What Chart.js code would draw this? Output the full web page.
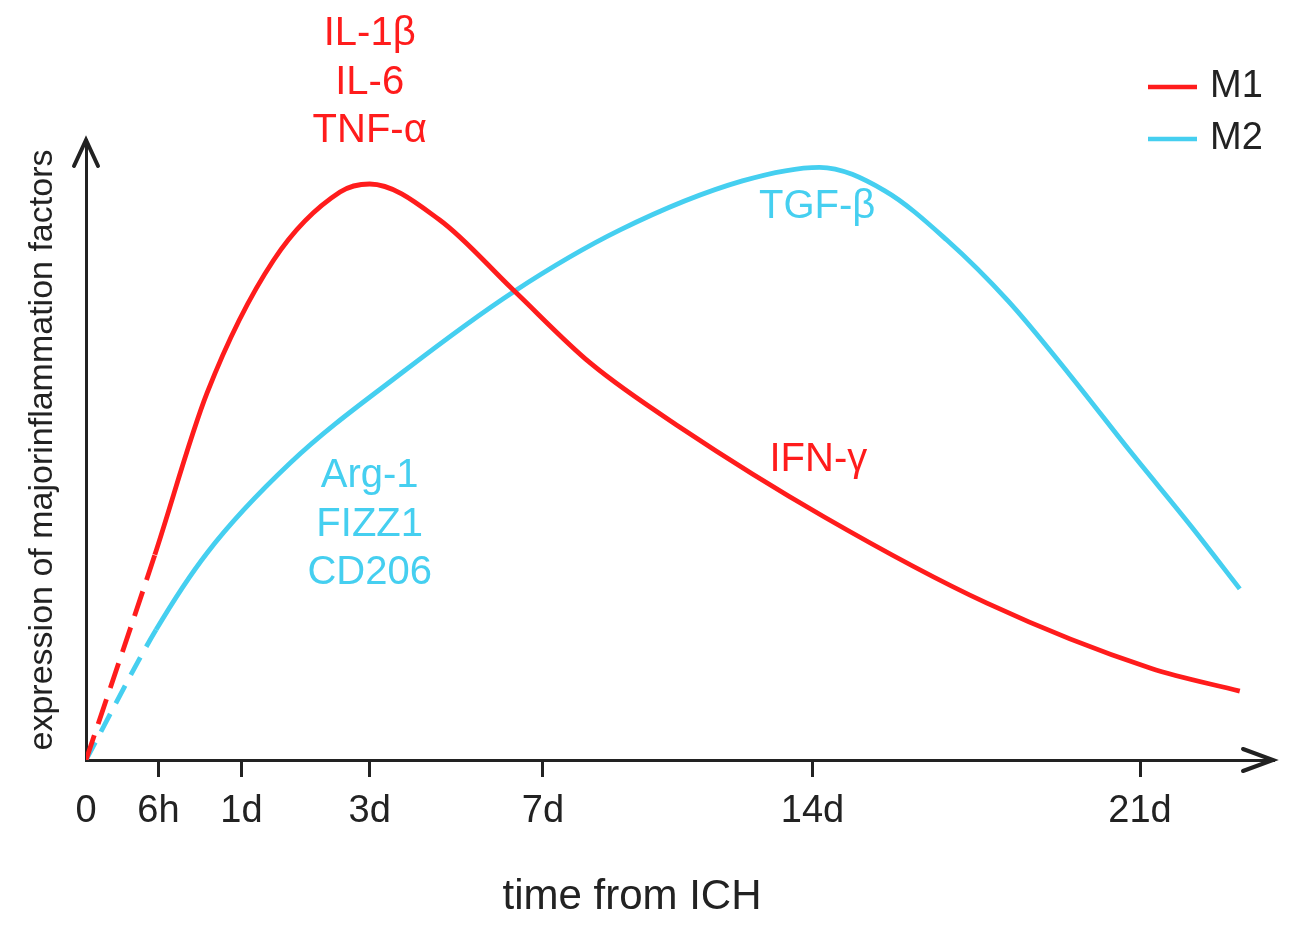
<!DOCTYPE html>
<html>
<head>
<meta charset="utf-8">
<script src="https://cdn.jsdelivr.net/npm/chart.js@4.4.0/dist/chart.umd.min.js"></script>
<style>
  html, body { margin: 0; padding: 0; background: #fff; }
  #wrap { width: 1300px; height: 941px; }
</style>
</head>
<body>
<div id="wrap"><canvas id="macroChart" width="1300" height="941"></canvas></div>
<script>
// Time axis is not to scale: tick positions (axis units) and their labels
const tickPos = [0, 6.1, 13.1, 23.9, 38.5, 61.2, 88.8];
const tickLabels = ['0', '6h', '1d', '3d', '7d', '14d', '21d'];

// M1 curve (x in axis units, y in 0-100)
const m1X = [0, 5.8, 10.2, 15.8, 21.4, 23.9, 29.8, 36.0, 42.5, 50.1, 62.2, 75.9, 89.7, 97.2];
const m1Y = [0, 33.1, 59.2, 80.6, 91.6, 92.9, 87.1, 75.8, 64.0, 53.6, 39.2, 25.3, 14.8, 11.1];

// M2 curve
const m2X = [0, 5.9, 10.2, 17.2, 26.5, 36.0, 45.0, 55.3, 61.8, 67.3, 72.5, 77.7, 82.8, 88.0, 93.1, 97.2];
const m2Y = [0, 21.0, 33.4, 47.9, 62.3, 75.5, 85.5, 93.4, 95.6, 91.8, 83.9, 74.0, 62.3, 49.7, 37.7, 27.6];

// marker names written next to each curve
const m1Factors = ['IL-1β', 'IL-6', 'TNF-α', 'IFN-γ'];
const m2Factors = ['TGF-β', 'Arg-1', 'FIZZ1', 'CD206'];

const RED = '#ff1c1c';
const CYAN = '#45cff0';
const INK = '#222';
const FONT = '"Liberation Sans", Arial, sans-serif';

Chart.defaults.font.family = FONT;

// where the factor names sit, in axis units
const labelSpots = [
    { text: m1Factors[0], x: 23.9, y: 117.1, color: RED },
    { text: m1Factors[1], x: 23.9, y: 109.2, color: RED },
    { text: m1Factors[2], x: 23.9, y: 101.4, color: RED },
    { text: m1Factors[3], x: 61.7, y: 48.4, color: RED },
    { text: m2Factors[0], x: 61.6, y: 89.2, color: CYAN },
    { text: m2Factors[1], x: 23.9, y: 45.8, color: CYAN },
    { text: m2Factors[2], x: 23.9, y: 37.9, color: CYAN },
    { text: m2Factors[3], x: 23.9, y: 30.2, color: CYAN }
];

const factorLabels = {
    id: 'factorLabels',
    afterDatasetsDraw(chart) {
        const { ctx, scales: { x, y } } = chart;
        ctx.save();
        ctx.font = '40px ' + FONT;
        ctx.textAlign = 'center';
        ctx.textBaseline = 'middle';
        labelSpots.forEach(s => {
            ctx.fillStyle = s.color;
            ctx.fillText(s.text, x.getPixelForValue(s.x), y.getPixelForValue(s.y));
        });
        // x axis title, sits left of centre in the original
        ctx.fillStyle = INK;
        ctx.font = '42px ' + FONT;
        ctx.fillText('time from ICH', x.getPixelForValue(46.0), chart.chartArea.bottom + 137);
        ctx.restore();
    }
};

const axisArrows = {
    id: 'axisArrows',
    afterDraw(chart) {
        const { ctx, chartArea: a } = chart;
        ctx.save();
        ctx.strokeStyle = INK;
        ctx.lineWidth = 4;
        ctx.lineCap = 'round';
        ctx.beginPath();
        ctx.moveTo(a.left - 12, a.top + 26);
        ctx.lineTo(a.left, a.top);
        ctx.lineTo(a.left + 12, a.top + 26);
        ctx.moveTo(a.right - 30, a.bottom - 11);
        ctx.lineTo(a.right, a.bottom);
        ctx.lineTo(a.right - 30, a.bottom + 11);
        ctx.stroke();
        ctx.restore();
    }
};

const lineLegend = {
    id: 'lineLegend',
    afterDraw(chart) {
        const { ctx } = chart;
        ctx.save();
        ctx.font = '38px ' + FONT;
        ctx.textAlign = 'left';
        ctx.textBaseline = 'middle';
        chart.data.datasets.forEach((ds, i) => {
            const yy = 87 + i * 52;
            ctx.strokeStyle = ds.borderColor;
            ctx.lineWidth = 4.5;
            ctx.beginPath();
            ctx.moveTo(1148, yy);
            ctx.lineTo(1197, yy);
            ctx.stroke();
            ctx.fillStyle = INK;
            ctx.fillText(ds.label, 1210, yy);
        });
        ctx.restore();
    }
};

function curve(label, xs, ys, color, dash) {
    return {
        label: label,
        data: xs.map((v, i) => ({ x: v, y: ys[i] })),
        borderColor: color,
        borderWidth: 4.8,
        pointRadius: 0,
        fill: false,
        cubicInterpolationMode: 'monotone',
        // first stretch (before 6h) is dashed
        segment: { borderDash: c => c.p0DataIndex === 0 ? dash : undefined }
    };
}

new Chart(document.getElementById('macroChart'), {
    type: 'line',
    data: {
        datasets: [
            curve('M1', m1X, m1Y, RED, [26, 12]),
            curve('M2', m2X, m2Y, CYAN, [20, 12])
        ]
    },
    options: {
        responsive: false,
        animation: false,
        devicePixelRatio: 1,
        layout: { padding: { top: 140, right: 27, left: 0, bottom: 0 } },
        plugins: { legend: { display: false }, tooltip: { enabled: false } },
        scales: {
            x: {
                type: 'linear',
                min: 0,
                max: 100,
                afterFit: s => { s.height = 181; },
                afterBuildTicks: s => { s.ticks = tickPos.map(v => ({ value: v })); },
                ticks: {
                    callback: (v, i) => tickLabels[i],
                    font: { size: 38 },
                    color: INK,
                    padding: 12,
                    maxRotation: 0,
                    autoSkip: false
                },
                grid: {
                    drawOnChartArea: false,
                    drawTicks: true,
                    tickLength: 17,
                    lineWidth: 3,
                    color: c => c.index === 0 ? 'rgba(0,0,0,0)' : INK
                },
                border: { display: true, color: INK, width: 3 }
            },
            y: {
                min: 0,
                max: 100,
                afterFit: s => { s.width = 86; },
                ticks: { display: false },
                grid: { display: false },
                border: { display: true, color: INK, width: 3 },
                title: {
                    display: true,
                    text: 'expression of majorinflammation factors',
                    font: { size: 34 },
                    color: INK,
                    padding: { top: 22, bottom: 0 }
                }
            }
        }
    },
    plugins: [factorLabels, axisArrows, lineLegend]
});
</script>
</body>
</html>
